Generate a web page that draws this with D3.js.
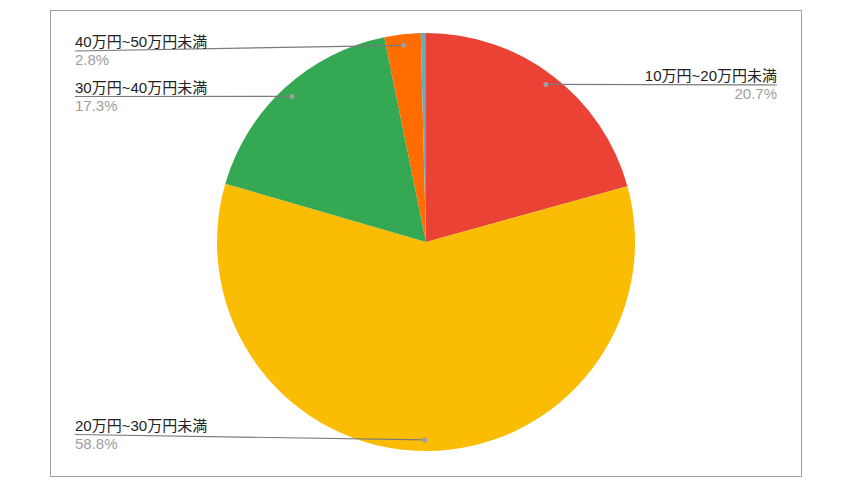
<!DOCTYPE html>
<html>
<head>
<meta charset="utf-8">
<script src="https://cdn.jsdelivr.net/npm/d3@7"></script>
<style>
  body { margin: 0; background: #fff; }
  text { font-family: Arial, "Liberation Sans", "Noto Sans CJK JP", sans-serif; }
</style>
</head>
<body>
<div id="chart"></div>
<script>
// data (percent of total)
var categories = ["10万円~20万円未満", "20万円~30万円未満", "30万円~40万円未満", "40万円~50万円未満", "50万円以上"];
var values = [20.7, 58.8, 17.3, 2.8, 0.4];
var colors = ["#ea4335", "#fbbc04", "#34a853", "#ff6d01", "#6aaab8"];

// where each label's leader line ends (null = no label shown)
var labelSide = ["right", "left", "left", "left", null];
var labelLineY = [85, 434.5, 96.5, 51, null];

var svgWidth = 852;
var svgHeight = 498;
var cx = 426, cy = 242, radius = 209;

var svg = d3.select("#chart")
  .append("svg")
  .attr("width", svgWidth)
  .attr("height", svgHeight);

// chart frame
svg.append("rect")
  .attr("x", 50.5)
  .attr("y", 10.5)
  .attr("width", 751)
  .attr("height", 466)
  .attr("fill", "none")
  .attr("stroke", "#9e9e9e")
  .attr("stroke-width", 1);

var pie = d3.pie()
  .sort(null)
  .value(d => d);

var arcs = pie(values);

var arc = d3.arc()
  .innerRadius(0)
  .outerRadius(radius);

var dotArc = d3.arc()
  .innerRadius(radius * 0.947)
  .outerRadius(radius * 0.947);

var chartGroup = svg.append("g")
  .attr("transform", `translate(${cx}, ${cy})`);

chartGroup.selectAll("path")
  .data(arcs)
  .enter()
  .append("path")
  .attr("d", arc)
  .attr("fill", (d, i) => colors[i]);

// labels with leader lines
var labelsGroup = svg.append("g");

arcs.forEach(function(d, i) {
  if (!labelSide[i]) return;
  var c = dotArc.centroid(d);
  var dx = cx + c[0], dy = cy + c[1];
  var ly = labelLineY[i];
  var lx = labelSide[i] === "left" ? 75 : 777;
  var anchor = labelSide[i] === "left" ? "start" : "end";

  labelsGroup.append("line")
    .attr("x1", lx)
    .attr("y1", ly)
    .attr("x2", dx)
    .attr("y2", dy)
    .attr("stroke", "#7a7a7a")
    .attr("stroke-width", 1.2);

  labelsGroup.append("circle")
    .attr("cx", dx)
    .attr("cy", dy)
    .attr("r", 2.5)
    .attr("fill", "#9e9e9e");

  labelsGroup.append("text")
    .attr("x", lx)
    .attr("y", ly - 4)
    .attr("text-anchor", anchor)
    .attr("font-size", "15px")
    .attr("fill", "#222")
    .text(categories[i]);

  labelsGroup.append("text")
    .attr("x", lx)
    .attr("y", ly + 14)
    .attr("text-anchor", anchor)
    .attr("font-size", "15px")
    .attr("fill", "#9e9e9e")
    .text(values[i].toFixed(1) + "%");
});
</script>
</body>
</html>
